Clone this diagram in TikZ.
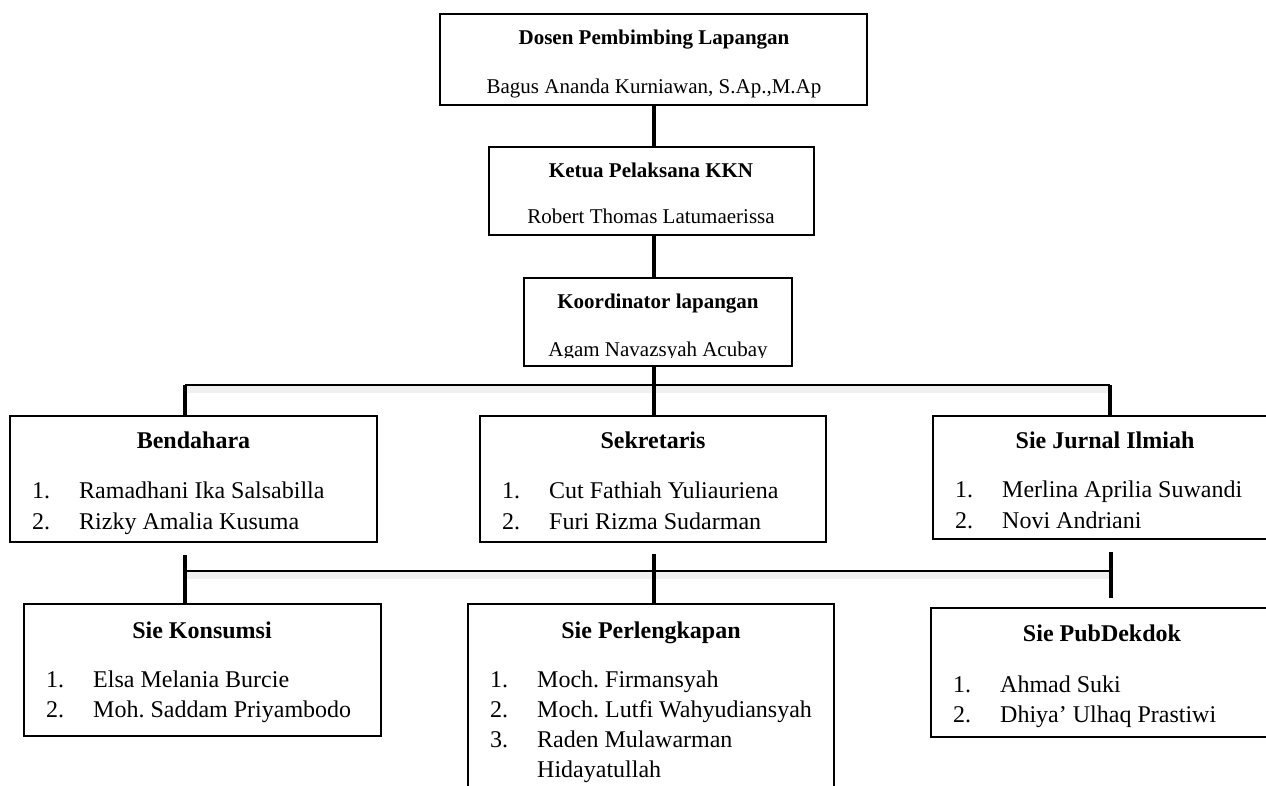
\documentclass[tikz,border=0pt]{standalone}
\usepackage{fontspec}
\setmainfont{Liberation Serif}
\frenchspacing
\newcommand{\Anggota}[5]{%
	\node[item] (#1-no) at (#2+22,#3) {#4.};
	\node[item] (#1-nm) at (#2+69,#3) {#5};}

\begin{document}
\begin{tikzpicture}[x=1pt, y=-1pt,
	unit/.style={draw, line width=2.2pt, inner sep=0pt},
	top/.style={inner sep=0pt, anchor=base, font=\fontsize{21}{25}\selectfont},
	topbold/.style={top, font=\bfseries\fontsize{21}{25}\selectfont},
	head/.style={inner sep=0pt, anchor=base, font=\bfseries\fontsize{24}{28}\selectfont},
	item/.style={inner sep=0pt, anchor=base west, font=\fontsize{24}{28}\selectfont},
	link/.style={line width=4pt},
	bus/.style={line width=2.4pt},
	busshadow/.style={line width=7pt, draw=black!6}]
	\useasboundingbox (0,0) rectangle (1266,785);
	\node[unit, minimum width=427pt, minimum height=91pt] (dosen) at (653.5,59.5) {};
	\node[unit, minimum width=325pt, minimum height=88pt] (ketua) at (651.5,191) {};
	\node[unit, minimum width=268pt, minimum height=88pt] (koord) at (658,322) {};
	\node[unit, minimum width=367pt, minimum height=126pt] (bend) at (193.5,479) {};
	\node[unit, minimum width=346pt, minimum height=126pt] (sekr) at (653,479) {};
	\node[unit, minimum width=342pt, minimum height=123pt] (jurnal) at (1104,477.5) {};
	\node[unit, minimum width=357pt, minimum height=132pt] (kons) at (202.5,670) {};
	\node[unit, minimum width=366pt, minimum height=196pt] (perl) at (651,702) {};
	\node[unit, minimum width=344pt, minimum height=129pt] (pub) at (1103,672.5) {};

	\node[topbold] (dosen-h) at (654,44) {Dosen Pembimbing Lapangan};
	\node[top] (dosen-n) at (654,93) {Bagus Ananda Kurniawan, S.Ap.,M.Ap};
	\node[topbold] (ketua-h) at (651,177) {Ketua Pelaksana KKN};
	\node[top] (ketua-n) at (651,223) {Robert Thomas Latumaerissa};
	\node[topbold] (koord-h) at (658,308) {Koordinator lapangan};
	\begin{scope}
		\clip (524,320) rectangle (792,357.5);
		\node[top] (koord-n) at (658,356) {Agam Navazsyah Acubay};
	\end{scope}

	\node[head] (bend-h) at (193.5,448) {Bendahara};
	\Anggota{bend1}{10}{498}{1}{Ramadhani Ika Salsabilla}
	\Anggota{bend2}{10}{529}{2}{Rizky Amalia Kusuma}
	\node[head] (sekr-h) at (653,448) {Sekretaris};
	\Anggota{sekr1}{480}{498}{1}{Cut Fathiah Yuliauriena}
	\Anggota{sekr2}{480}{529}{2}{Furi Rizma Sudarman}
	\node[head] (jurnal-h) at (1105,448) {Sie Jurnal Ilmiah};
	\Anggota{jurnal1}{933}{497}{1}{Merlina Aprilia Suwandi}
	\begin{scope}
		\clip (933,505) rectangle (1266,529.5);
		\Anggota{jurnal2}{933}{528}{2}{Novi Andriani}
	\end{scope}

	\node[head] (kons-h) at (202,638) {Sie Konsumsi};
	\Anggota{kons1}{24}{687}{1}{Elsa Melania Burcie}
	\Anggota{kons2}{24}{717}{2}{Moh. Saddam Priyambodo}
	\node[head] (perl-h) at (651,638) {Sie Perlengkapan};
	\Anggota{perl1}{468}{687}{1}{Moch. Firmansyah}
	\Anggota{perl2}{468}{717}{2}{Moch. Lutfi Wahyudiansyah}
	\Anggota{perl3}{468}{747}{3}{Raden Mulawarman}
	\node[item] (perl3-nm2) at (537,777) {Hidayatullah};
	\node[head] (pub-h) at (1102,641) {Sie PubDekdok};
	\Anggota{pub1}{931}{692}{1}{Ahmad Suki}
	\Anggota{pub2}{931}{722}{2}{Dhiya' Ulhaq Prastiwi}

	\coordinate (atasL) at (185,385);
	\coordinate (atasR) at (1110,385);
	\coordinate (bawahL) at (185,571);
	\coordinate (bawahR) at (1111,571);
	\coordinate (tengah) at (dosen.south |- bawahL);
	\coordinate (kanan) at (bawahR |- pub.north);
	\draw[busshadow] ([yshift=-4pt]atasL) -- ([yshift=-4pt]atasR);
	\draw[busshadow] ([yshift=-4pt]bawahL) -- ([yshift=-4pt]bawahR);

	\draw[link] (dosen.south) -- (dosen.south |- ketua.north);
	\draw[link] (dosen.south |- ketua.south) -- (dosen.south |- koord.north);
	\draw[link] (dosen.south |- koord.south) -- (dosen.south |- sekr.north);
	\draw[bus] (atasL) -- (atasR);
	\draw[link] (atasL) -- (atasL |- bend.north);
	\draw[link] (atasR) -- (atasR |- jurnal.north);
	\draw[bus] (bawahL) -- (bawahR);
	\draw[link] ([yshift=16pt]bawahL) -- (bawahL |- kons.north);
	\draw[link] ([yshift=17pt]tengah) -- (tengah |- perl.north);
	\draw[link] ([yshift=19pt]bawahR) -- ([yshift=9pt]kanan);
\end{tikzpicture}
\end{document}
